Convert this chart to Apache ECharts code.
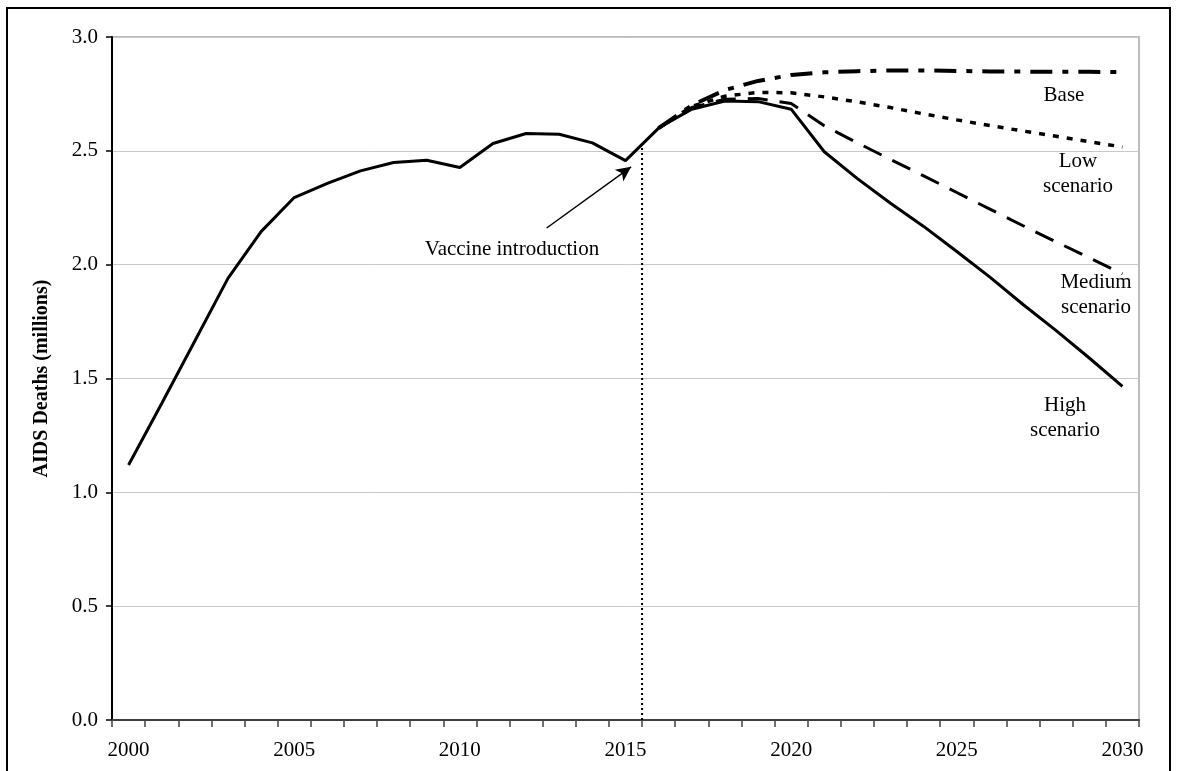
<!DOCTYPE html>
<html>
<head>
<meta charset="utf-8">
<style>
  html, body { margin: 0; padding: 0; background: #ffffff; }
  #chart { width: 1177px; height: 771px; }
</style>
<script src="https://cdn.jsdelivr.net/npm/echarts@6/dist/echarts.min.js"></script>
</head>
<body>
<div id="chart"></div>
<script>
// ---- data ----
const years = ['2000','2001','2002','2003','2004','2005','2006','2007','2008','2009','2010',
  '2011','2012','2013','2014','2015','2016','2017','2018','2019','2020',
  '2021','2022','2023','2024','2025','2026','2027','2028','2029','2030'];

// historical + high scenario (solid)
const highScenario = [1.12, 1.39, 1.665, 1.94, 2.145, 2.295, 2.357, 2.412, 2.449, 2.459, 2.427,
  2.532, 2.576, 2.573, 2.535, 2.457, 2.60, 2.683, 2.719, 2.716, 2.683,
  2.496, 2.378, 2.27, 2.168, 2.058, 1.945, 1.825, 1.71, 1.59, 1.465];

const mediumScenario = [null, null, null, null, null, null, null, null, null, null, null,
  null, null, null, null, null, 2.60, 2.69, 2.727, 2.73, 2.708,
  2.61, 2.535, 2.462, 2.39, 2.317, 2.244, 2.171, 2.10, 2.03, 1.96];

const lowScenario = [null, null, null, null, null, null, null, null, null, null, null,
  null, null, null, null, null, 2.60, 2.695, 2.74, 2.757, 2.755,
  2.737, 2.715, 2.69, 2.662, 2.636, 2.611, 2.587, 2.564, 2.54, 2.517];

const baseScenario = [null, null, null, null, null, null, null, null, null, null, null,
  null, null, null, null, null, 2.60, 2.70, 2.767, 2.807, 2.833,
  2.845, 2.85, 2.853, 2.853, 2.851, 2.849, 2.848, 2.847, 2.847, 2.846];

// vaccine introduction marker (year position, value at top of dotted line)
const vaccineYear = 2015.5;
const vaccineTop = 2.53;
// arrow from label to the curve: [year, value]
const arrowFrom = [2012.62, 2.161];
const arrowTo = [2015.17, 2.43];

const yTicks = [0, 0.5, 1.0, 1.5, 2.0, 2.5, 3.0];

const SERIF = '"Liberation Serif", "Times New Roman", serif';

const chart = echarts.init(document.getElementById('chart'), null, { renderer: 'canvas' });

const option = {
  backgroundColor: '#ffffff',
  animation: false,
  grid: {
    left: 112, right: 38, top: 37, bottom: 51,
    show: true, borderColor: '#a6a6a6', borderWidth: 1.5, backgroundColor: 'transparent'
  },
  xAxis: [{
    type: 'category',
    data: years,
    boundaryGap: true,
    axisLine: { lineStyle: { color: '#404040', width: 2 } },
    axisTick: { show: true, interval: 0, length: 7, lineStyle: { color: '#404040', width: 1.5 } },
    axisLabel: { interval: 4, margin: 20, fontFamily: SERIF, fontSize: 21, color: '#000' },
    splitLine: { show: false }
  }, {
    type: 'value',
    min: 1999.5, max: 2030.5,
    show: false
  }],
  yAxis: {
    type: 'value',
    min: 0, max: 3, interval: 0.5,
    name: 'AIDS Deaths (millions)',
    nameLocation: 'middle',
    nameGap: 60,
    nameTextStyle: { fontFamily: SERIF, fontSize: 20, fontWeight: 'bold', color: '#000' },
    axisLine: { show: true, lineStyle: { color: '#000', width: 2 } },
    axisTick: { show: true, length: 6, lineStyle: { color: '#000', width: 1.5 } },
    axisLabel: {
      margin: 14, fontFamily: SERIF, fontSize: 21, color: '#000',
      formatter: v => yTicks.indexOf(v) >= 0 ? v.toFixed(1) : ''
    },
    splitLine: { show: true, lineStyle: { color: '#c8c8c8', width: 1 } }
  },
  series: [
    {
      name: 'Base', type: 'line', data: baseScenario, symbol: 'none', connectNulls: false,
      lineStyle: { color: '#000', width: 4, type: [22, 10, 6, 10] }, z: 3
    },
    {
      name: 'Low scenario', type: 'line', data: lowScenario, symbol: 'none',
      lineStyle: { color: '#000', width: 3.5, type: [6, 8] }, z: 3
    },
    {
      name: 'Medium scenario', type: 'line', data: mediumScenario, symbol: 'none',
      lineStyle: { color: '#000', width: 3, type: [20, 12] }, z: 3
    },
    {
      name: 'High scenario', type: 'line', data: highScenario, symbol: 'none',
      lineStyle: { color: '#000', width: 3 }, z: 4
    },
    {
      name: 'Vaccine introduction', type: 'line', xAxisIndex: 1, symbol: 'none',
      data: [[vaccineYear, 0], [vaccineYear, vaccineTop]],
      lineStyle: { color: '#000', width: 2, type: [2, 3] }, z: 2,
      markLine: {
        silent: true,
        symbol: ['none', 'arrow'],
        symbolSize: [11, 15],
        label: { show: false },
        lineStyle: { color: '#000', width: 1.5, type: 'solid' },
        data: [[{ coord: arrowFrom }, { coord: arrowTo }]]
      }
    }
  ],
  graphic: [
    { type: 'rect', shape: { x: 7, y: 8, width: 1163, height: 800 },
      style: { fill: 'none', stroke: '#000', lineWidth: 2 }, z: 100 },
    { type: 'text', x: 512, y: 249, style: { text: 'Vaccine introduction', font: '21px ' + SERIF, fill: '#000', textAlign: 'center', textVerticalAlign: 'middle' } },
    { type: 'text', x: 1064, y: 95, style: { text: 'Base', font: '21px ' + SERIF, fill: '#000', textAlign: 'center', textVerticalAlign: 'middle' } },
    { type: 'text', x: 1078, y: 174, style: { text: 'Low\nscenario', font: '21px ' + SERIF, lineHeight: 25, fill: '#000', textAlign: 'center', textVerticalAlign: 'middle' } },
    { type: 'text', x: 1096, y: 295, style: { text: 'Medium\nscenario', font: '21px ' + SERIF, lineHeight: 25, fill: '#000', textAlign: 'center', textVerticalAlign: 'middle' } },
    { type: 'text', x: 1065, y: 418, style: { text: 'High\nscenario', font: '21px ' + SERIF, lineHeight: 25, fill: '#000', textAlign: 'center', textVerticalAlign: 'middle' } }
  ]
};

chart.setOption(option);
</script>
</body>
</html>
